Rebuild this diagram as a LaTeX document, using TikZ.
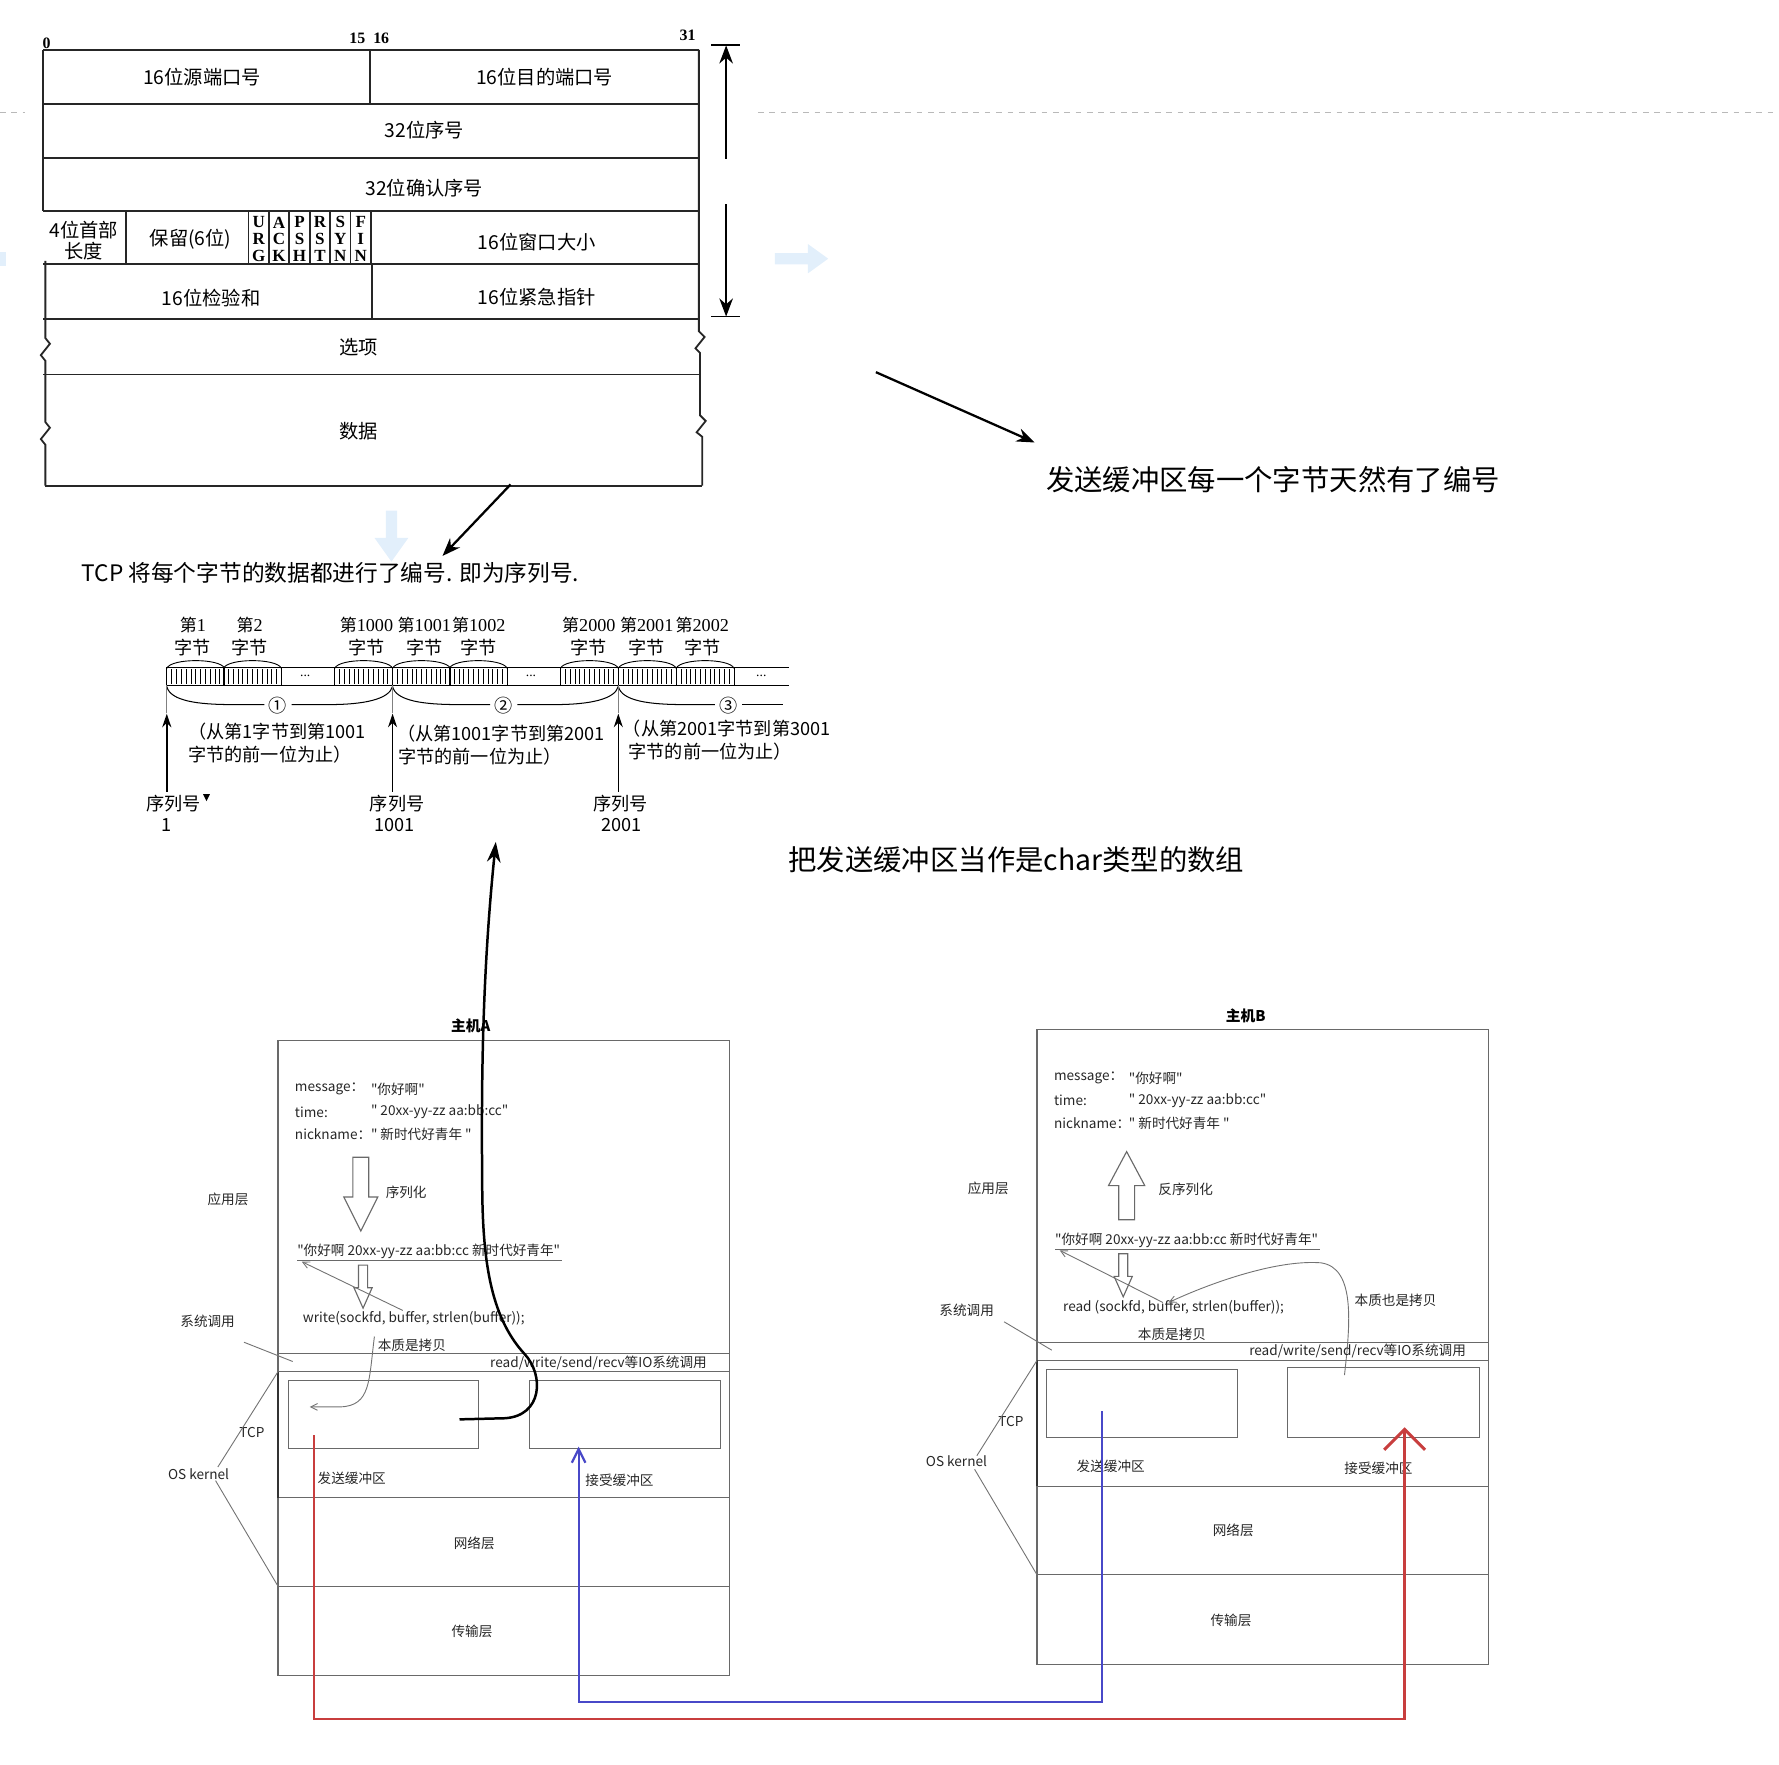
\documentclass[tikz,border=0pt]{standalone}
\usepackage{fontspec}
\setmainfont{Liberation Serif}
\newfontfamily\cjk{Noto Sans CJK SC}
\usetikzlibrary{arrows.meta}
\definecolor{redln}{RGB}{200,62,62}
\definecolor{blueln}{RGB}{72,72,200}
\definecolor{faintblue}{RGB}{226,239,251}
\definecolor{hostgray}{RGB}{105,105,105}
\begin{document}
\begin{tikzpicture}[x=0.5pt,y=-0.5pt,
  every node/.style={inner sep=0pt, outer sep=0pt},
  hdr/.style={font=\cjk\fontsize{8.5}{10}\selectfont},
  bitnum/.style={font=\bfseries\fontsize{7}{8}\selectfont},
  flagtxt/.style={font=\bfseries\fontsize{7.5}{8}\selectfont},
  hline/.style={line width=0.8pt, black!85},
  bigtxt/.style={font=\cjk\fontsize{12.5}{14}\selectfont},
  midtxt/.style={font=\cjk\fontsize{10}{11}\selectfont},
  seqtxt/.style={font=\cjk\fontsize{8}{9}\selectfont},
  ht/.style={font=\cjk\fontsize{6}{7}\selectfont, text=black!85},
  htb/.style={font=\cjk\bfseries\fontsize{6.5}{7}\selectfont},
  hl/.style={hostgray, line width=0.5pt},
  fineln/.style={black!55, line width=0.4pt},
  blkarrow/.style={-{Stealth[length=8pt,width=6pt]}, line width=0.8pt},
]
\useasboundingbox (0,0) rectangle (1568,1555);

% ---------- faint background marks ----------
\draw[gray!55, line width=0.5pt, dash pattern=on 2.5pt off 2.5pt] (0,99) -- (22,99);
\draw[gray!55, line width=0.5pt, dash pattern=on 2.5pt off 2.5pt] (668,99) -- (1568,99);
\fill[faintblue] (683,223) -- (712,223) -- (712,215) -- (730,228) -- (712,241) -- (712,233) -- (683,233) -- cycle;
\fill[faintblue] (340,450) -- (350,450) -- (350,474) -- (360,474) -- (345,495) -- (330,474) -- (340,474) -- cycle;
\fill[faintblue] (0,222) rectangle (5,234);

% ---------- TCP header ----------
\draw[hline] (38,44) -- (616,44);
\foreach \yy in {92,139,186,233,281,330} \draw[hline] (38,\yy) -- (617,\yy);
\draw[hline] (40,428) -- (619,428);
\draw[hline] (38,44) -- (38,186);
\draw[hline] (40,230) -- (40,298) -- (44,303) -- (36,313) -- (40,318) -- (40,372) -- (44,377) -- (36,387) -- (40,392) -- (40,428);
\draw[hline] (616,44) -- (616,292) -- (621,297) -- (613,307) -- (617,311) -- (617,366) -- (622,371) -- (614,381) -- (619,385) -- (619,428);
\draw[hline] (326,44) -- (326,92);
\draw[hline] (111,186) -- (111,233);
\foreach \xx in {219,237,255,273,291,309,327} \draw[hline] (\xx,186) -- (\xx,233);
\draw[hline] (328,233) -- (328,281);

\node[bitnum] (b0) at (41,38) {0};
\node[bitnum] (b15) at (315,34) {15};
\node[bitnum] (b16) at (336,34) {16};
\node[bitnum] (b31) at (606,31) {31};

\node[hdr] (srcport) at (178,68) {16位源端口号};
\node[hdr] (dstport) at (480,68) {16位目的端口号};
\node[hdr] (seqno) at (374,115) {32位序号};
\node[hdr] (ackno) at (374,166) {32位确认序号};
\node[hdr] (hlen1) at (74,203) {4位首部};
\node[hdr] (hlen2) at (74,221) {长度};
\node[hdr] (resv) at (168,211) {保留(6位)};
\node[hdr] (win) at (473,213) {16位窗口大小};
\node[hdr] (csum) at (186,263) {16位检验和};
\node[hdr] (urg) at (473,262) {16位紧急指针};
\node[hdr] (opts) at (316,306) {选项};
\node[hdr] (data) at (316,380) {数据};
\foreach \cx/\la/\lb/\lc [count=\i] in {228/U/R/G,246/A/C/K,264/P/S/H,282/R/S/T,300/S/Y/N,318/F/I/N} {
  \node[flagtxt] (fa\i) at (\cx,196) {\la};
  \node[flagtxt] (fb\i) at (\cx,211) {\lb};
  \node[flagtxt] (fc\i) at (\cx,226) {\lc};
}
% 20-byte double arrow
\coordinate (dtop) at (640,40);
\coordinate (dmid1) at (640,140);
\coordinate (dmid2) at (640,180);
\coordinate (dbot) at (640,279);
\draw[line width=0.8pt] (627,40) -- (652,40);
\draw[line width=0.8pt] (627,279) -- (652,279);
\draw[blkarrow] (dmid1) -- (dtop);
\draw[blkarrow] (dmid2) -- (dbot);

% ---------- annotations ----------
\coordinate (ar1s) at (772,328);
\coordinate (ar1e) at (912,390);
\draw[blkarrow, line width=1pt] (ar1s) -- (ar1e);
\node[bigtxt, anchor=west] (natnum) at (922,423) {发送缓冲区每一个字节天然有了编号};
\coordinate (ar2s) at (450,427);
\coordinate (ar2e) at (390,490);
\draw[blkarrow, line width=1pt] (ar2s) -- (ar2e);
\node[midtxt, anchor=west] (tcpnum) at (72,505) {TCP 将每个字节的数据都进行了编号. 即为序列号.};
\node[bigtxt, anchor=west] (chararr) at (695,758) {把发送缓冲区当作是char类型的数组};

% ---------- byte stream ----------
\draw[line width=0.5pt] (147,588) -- (695,588);
\draw[line width=0.5pt] (147,604) -- (695,604);
\foreach \bx in {147,197,295,346,396,494,545,596} {
  \draw[line width=0.5pt] (\bx,588) rectangle ++(51,16);
  \foreach \k in {1,...,11} \draw[line width=0.3pt] ({\bx+\k*4.25},590) -- ({\bx+\k*4.25},603);
  \draw[line width=0.4pt] (\bx,589) .. controls ({\bx+4},580) and ({\bx+47},580) .. ({\bx+51},589);
}
\node[font=\fontsize{6}{6}\selectfont] (dots1) at (269,596) {...};
\node[font=\fontsize{6}{6}\selectfont] (dots2) at (468,596) {...};
\node[font=\fontsize{6}{6}\selectfont] (dots3) at (671,596) {...};

\foreach \cx/\tx [count=\i] in {170/1,220/2,323/1000,374/1001,422/1002,519/2000,570/2001,619/2002} {
  \node[font=\fontsize{8}{8}\selectfont] (bl\i) at (\cx,551) {{\cjk\fontsize{7.5}{8}\selectfont 第}\tx};
  \node[seqtxt] (bz\i) at (\cx,571) {字节};
}
% braces
\draw[line width=0.45pt] (147,605) .. controls (150,618) and (175,621) .. (205,621) -- (233,621);
\draw[line width=0.45pt] (257,621) -- (290,621) .. controls (322,621) and (343,616) .. (346,605);
\draw[line width=0.45pt] (346,605) .. controls (349,618) and (374,621) .. (404,621) -- (432,621);
\draw[line width=0.45pt] (456,621) -- (489,621) .. controls (521,621) and (542,616) .. (545,605);
\draw[line width=0.45pt] (545,605) .. controls (548,618) and (573,621) .. (603,621) -- (630,621);
\draw[line width=0.45pt] (654,621) -- (690,621);
\node[seqtxt] (c1) at (245,622) {①};
\node[seqtxt] (c2) at (444,622) {②};
\node[seqtxt] (c3) at (642,622) {③};
\foreach \ax in {147,346,545} {
  \draw[black!50, line width=0.3pt] (\ax,604) -- (\ax,628);
  \draw[-{Stealth[length=6pt,width=4pt]}, line width=0.7pt] (\ax,698) -- (\ax,629);
}
\node[seqtxt, anchor=west] (r1a) at (166,645) {（从第1字节到第1001};
\node[seqtxt, anchor=west] (r1b) at (166,665) {字节的前一位为止）};
\node[seqtxt, anchor=west] (r2a) at (350,647) {（从第1001字节到第2001};
\node[seqtxt, anchor=west] (r2b) at (351,667) {字节的前一位为止）};
\node[seqtxt, anchor=west] (r3a) at (549,642) {（从第2001字节到第3001};
\node[seqtxt, anchor=west] (r3b) at (554,662) {字节的前一位为止）};
\node[seqtxt] (s1) at (153,708) {序列号};
\fill (179,700) -- (185,700) -- (182,706) -- cycle;
\node[seqtxt] (s1n) at (147,727) {1};
\node[seqtxt] (s2) at (350,708) {序列号};
\node[seqtxt] (s2n) at (348,727) {1001};
\node[seqtxt] (s3) at (547,708) {序列号};
\node[seqtxt] (s3n) at (548,727) {2001};

% ---------- Host A ----------
\node[htb] (A-title) at (415,904) {主机A};
\begin{scope}[shift={(245,917)}, name prefix=A-]
  \draw[hl] (0,0) rectangle (398,560);
  \draw[hl] (0,276) -- (398,276);
  \draw[hl] (0,292) -- (398,292);
  \draw[hl] (0,403) -- (398,403);
  \draw[hl] (0,481) -- (398,481);
  \draw[black!80, line width=0.5pt] (0,292) -- (0,403);
  \draw[hl] (9,300) rectangle (177,360);
  \draw[hl] (222,300) rectangle (390,360);
  \node[ht, anchor=west] (k1) at (15,43) {message：};
  \node[ht, anchor=west] (k2) at (15,63) {time:};
  \node[ht, anchor=west] (k3) at (15,83) {nickname：};
  \node[ht, anchor=west] (v1) at (82,43) {"你好啊"};
  \node[ht, anchor=west] (v2) at (82,63) {" 20xx-yy-zz aa:bb:cc"};
  \node[ht, anchor=west] (v3) at (82,83) {" 新时代好青年 "};
  \draw[hl, fill=white] (66,103) -- (80,103) -- (80,138) -- (88,138) -- (73,168) -- (58,138) -- (66,138) -- cycle;
  \node[ht, anchor=west] (ser) at (95,134) {序列化};
  \node[ht] (app) at (-44,140) {应用层};
  \node[ht, anchor=west] (str) at (17,186) {"你好啊 20xx-yy-zz aa:bb:cc 新时代好青年"};
  \draw[hl] (17,194) -- (250,194);
  \draw[hl, fill=white] (71,198) -- (79,198) -- (79,218) -- (83,218) -- (75,236) -- (67,218) -- (71,218) -- cycle;
  \node[ht, anchor=west] (call) at (22,245) {write(sockfd, buffer, strlen(buffer));};
  \draw[fineln, -{Straight Barb[length=3pt,width=3pt]}] (110,238) -- (21,195);
  \node[ht] (copy) at (118,269) {本质是拷贝};
  \draw[fineln, -{Straight Barb[length=3pt,width=3pt]}] (85,261) .. controls (80,300) and (82,322) .. (55,323) -- (28,323);
  \node[ht] (sys) at (-62,248) {系统调用};
  \draw[fineln] (-30,266) -- (13,283);
  \node[ht, anchor=east] (io) at (378,284) {read/write/send/recv等IO系统调用};
  \node[ht] (tcp) at (-23,346) {TCP};
  \node[ht] (osk) at (-70,382) {OS kernel};
  \draw[fineln] (0,292) -- (-53,376);
  \draw[fineln] (-55,388) -- (0,481);
  \node[ht] (sendbuf) at (65,386) {发送缓冲区};
  \node[ht] (recvbuf) at (301,388) {接受缓冲区};
  \node[ht] (net) at (173,443) {网络层};
  \node[ht] (trans) at (171,521) {传输层};
\end{scope}

% ---------- Host B ----------
\node[htb] (B-title) at (1098,895) {主机B};
\begin{scope}[shift={(914,907)}, name prefix=B-]
  \draw[hl] (0,0) rectangle (398,560);
  \draw[hl] (0,276) -- (398,276);
  \draw[hl] (0,292) -- (398,292);
  \draw[hl] (0,403) -- (398,403);
  \draw[hl] (0,481) -- (398,481);
  \draw[black!80, line width=0.5pt] (0,292) -- (0,403);
  \draw[hl] (8,300) rectangle (177,360);
  \draw[hl] (221,298) rectangle (390,360);
  \node[ht, anchor=west] (k1) at (15,43) {message：};
  \node[ht, anchor=west] (k2) at (15,63) {time:};
  \node[ht, anchor=west] (k3) at (15,83) {nickname：};
  \node[ht, anchor=west] (v1) at (81,43) {"你好啊"};
  \node[ht, anchor=west] (v2) at (81,63) {" 20xx-yy-zz aa:bb:cc"};
  \node[ht, anchor=west] (v3) at (81,83) {" 新时代好青年 "};
  \draw[hl, fill=white] (79,108) -- (95,138) -- (86,138) -- (86,168) -- (72,168) -- (72,138) -- (63,138) -- cycle;
  \node[ht, anchor=west] (deser) at (107,141) {反序列化};
  \node[ht] (app) at (-43,140) {应用层};
  \node[ht, anchor=west] (str) at (16,186) {"你好啊 20xx-yy-zz aa:bb:cc 新时代好青年"};
  \draw[hl] (16,194) -- (249,194);
  \draw[hl, fill=white] (72,198) -- (80,198) -- (80,218) -- (84,218) -- (76,236) -- (68,218) -- (72,218) -- cycle;
  \node[ht, anchor=west] (call) at (23,245) {read (sockfd, buffer, strlen(buffer));};
  \draw[fineln, -{Straight Barb[length=3pt,width=3pt]}] (111,241) -- (20,195);
  \node[ht] (copy) at (119,269) {本质是拷贝};
  \node[ht] (copy2) at (316,239) {本质也是拷贝};
  \draw[fineln, -{Straight Barb[length=3pt,width=3pt]}] (271,305) .. controls (276,260) and (281,210) .. (250,206) .. controls (210,203) and (150,225) .. (116,241);
  \node[ht] (sys) at (-62,248) {系统调用};
  \draw[fineln] (-29,258) -- (13,283);
  \node[ht, anchor=east] (io) at (378,284) {read/write/send/recv等IO系统调用};
  \node[ht] (tcp) at (-23,346) {TCP};
  \node[ht] (osk) at (-71,381) {OS kernel};
  \draw[fineln] (0,292) -- (-53,376);
  \draw[fineln] (-55,388) -- (0,481);
  \node[ht] (sendbuf) at (65,385) {发送缓冲区};
  \node[ht] (recvbuf) at (301,387) {接受缓冲区};
  \node[ht] (net) at (173,442) {网络层};
  \node[ht] (trans) at (171,521) {传输层};
\end{scope}

% ---------- connectors ----------
\coordinate (A-bufout) at (405,1251);
\coordinate (seqtop) at (437,742);
\draw[line width=1.1pt, -{Stealth[length=9pt,width=6pt]}] (A-bufout) -- (445,1250) .. controls (478,1248) and (480,1212) .. (462,1193) .. controls (432,1160) and (425,1110) .. (425,1040) .. controls (424,940) and (426,850) .. (seqtop);

\coordinate (B-sendsrc) at (971,1244);
\coordinate (A-recvdst) at (510,1275);
\draw[blueln, line width=1pt, -{Straight Barb[length=6pt,width=6pt]}] (B-sendsrc) -- (971,1500) -- (510,1500) -- (A-recvdst);
\coordinate (A-sendsrc) at (277,1265);
\coordinate (B-recvdst) at (1238,1258);
\draw[redln, line width=1pt, -{Straight Barb[length=9pt,width=18pt, line width=1.3pt]}] (A-sendsrc) -- (277,1515) -- (1238,1515) -- (B-recvdst);
\end{tikzpicture}
\end{document}
